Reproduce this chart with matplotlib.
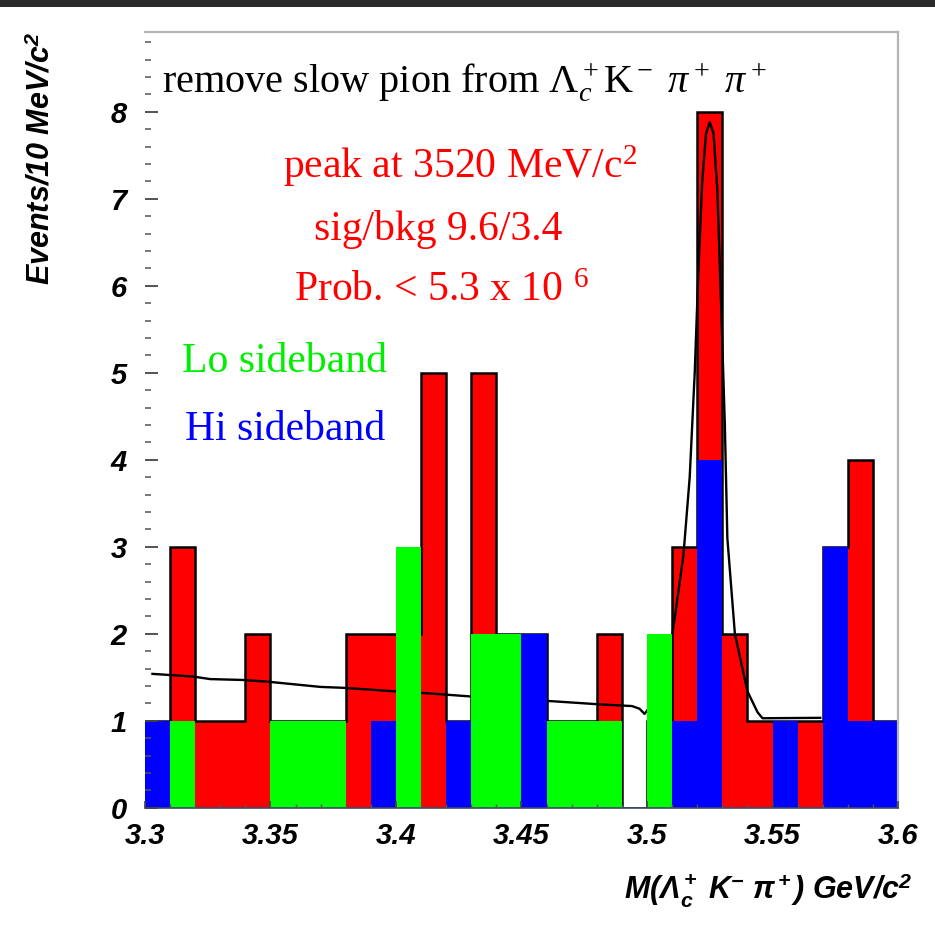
import numpy as np
import matplotlib
matplotlib.use("Agg")
import matplotlib.pyplot as plt
from matplotlib.patches import Rectangle

# serif for the annotations (Times-like), sans for the axes
plt.rcParams['font.family'] = 'Liberation Sans'
plt.rcParams['mathtext.fontset'] = 'custom'
plt.rcParams['mathtext.rm'] = 'Liberation Serif'
plt.rcParams['mathtext.it'] = 'Liberation Serif:italic'
plt.rcParams['mathtext.sf'] = 'Liberation Sans:bold:italic'
plt.rcParams['mathtext.bf'] = 'Liberation Sans:bold:italic'

# --- histogram contents, 10 MeV bins from 3.30 to 3.60 GeV ---
bin_lo = 3.30
bin_width = 0.01
n_bins = 30

signal = [1, 3, 1, 1, 2, 1, 1, 1, 2, 2,
          2, 5, 1, 5, 2, 2, 1, 1, 2, 0,
          1, 3, 8, 2, 1, 1, 1, 3, 4, 1]
lo_sideband = [0, 1, 0, 0, 0, 1, 1, 1, 0, 0,
               3, 0, 0, 2, 2, 0, 1, 1, 1, 0,
               2, 0, 0, 0, 0, 0, 0, 0, 0, 0]
hi_sideband = [1, 0, 0, 0, 0, 0, 0, 0, 0, 1,
               0, 0, 1, 0, 0, 2, 0, 0, 0, 0,
               0, 1, 4, 0, 0, 1, 0, 3, 1, 1]

# fitted curve (background + gaussian), sampled
fit_x = [3.303, 3.319, 3.326, 3.339, 3.349, 3.370, 3.379, 3.399, 3.411, 3.430,
         3.460, 3.481, 3.494, 3.497, 3.499, 3.505, 3.510, 3.5145, 3.517, 3.519,
         3.5205, 3.522, 3.5235, 3.525, 3.5265, 3.528, 3.5295, 3.531, 3.532, 3.535,
         3.540, 3.544, 3.546, 3.569]
fit_y = [1.54, 1.51, 1.48, 1.47, 1.45, 1.39, 1.38, 1.34, 1.32, 1.28,
         1.23, 1.19, 1.17, 1.14, 1.08, 1.30, 1.97, 2.90, 3.80, 5.00,
         6.20, 7.20, 7.75, 7.88, 7.75, 7.10, 5.80, 4.40, 3.10, 2.00,
         1.34, 1.10, 1.03, 1.035]

x_ticks = [3.30, 3.35, 3.40, 3.45, 3.50, 3.55, 3.60]
x_tick_labels = ['3.3', '3.35', '3.4', '3.45', '3.5', '3.55', '3.6']
y_ticks = [0, 1, 2, 3, 4, 5, 6, 7, 8]

edges = bin_lo + bin_width * np.arange(n_bins + 1)

fig = plt.figure(figsize=(9.35, 9.46), dpi=100)
ax = fig.add_axes([0.155, 0.146, 0.8055, 0.8205])

# signal region: red fill with black outline, fit on top, then sidebands
ax.stairs(signal, edges, fill=True, color='#ff0000', zorder=1.0)
ax.stairs(signal, edges, color='black', lw=1.8, baseline=0, zorder=1.1)
ax.plot(fit_x, fit_y, color='black', lw=1.7, zorder=1.2)
ax.stairs(lo_sideband, edges, fill=True, color='#00ff00', zorder=1.3)
ax.stairs(hi_sideband, edges, fill=True, color='#0000ff', zorder=1.4)

ax.set_xlim(3.30, 3.60)
ax.set_ylim(0, 8.92)
ax.set_axisbelow(False)

tick_font = dict(fontsize=21, fontweight='bold', fontstyle='italic')
ax.set_xticks(x_ticks, x_tick_labels, **tick_font)
ax.set_yticks(y_ticks, [str(v) for v in y_ticks], **tick_font)
ax.set_xticks(edges, minor=True)
ax.set_yticks(np.arange(0, 8.9, 0.2), minor=True)
ax.tick_params(axis='y', which='major', direction='in', length=9.5, width=1.3,
               color='#444444', pad=13)
ax.tick_params(axis='y', which='minor', direction='in', length=4.5, width=1.1,
               color='#555555')
ax.tick_params(axis='x', which='major', direction='in', length=5, width=1.2,
               color='#444444', pad=10)
ax.tick_params(axis='x', which='minor', direction='in', length=3, width=1.0,
               color='#555555')

ax.spines['left'].set_visible(False)
ax.spines['bottom'].set_color('#3a4a6a')
ax.spines['bottom'].set_linewidth(1.2)
for side in ('top', 'right'):
    ax.spines[side].set_color('#b4b4b4')
    ax.spines[side].set_linewidth(1.6)

# axis titles
ax.set_ylabel(r'Events/10 MeV/c$^{\mathbf{2}}$', fontsize=22, fontweight='bold',
              fontstyle='italic', loc='top')
ax.yaxis.set_label_coords(-0.117, 1.0)
ax.set_xlabel(r'M($\mathsf{\Lambda_c^+}$ K$^{\mathsf{-}}$ $\mathsf{\pi^+}$) GeV/c$^{\mathsf{2}}$',
              fontsize=22, fontweight='bold', fontstyle='italic', loc='right')
ax.xaxis.set_label_coords(1.02, -0.1186)
ax.xaxis.label.set_va('baseline')

# annotations
serif = 'Liberation Serif'
ax.text(3.3068, 8.22, r'remove slow pion from $\Lambda_c^+$K$^-$ $\pi^+$ $\pi^+$',
        fontsize=29, family=serif, color='black', va='baseline')
ax.text(3.355, 7.24, r'peak at 3520 MeV/c$^{\mathrm{2}}$',
        fontsize=30, family=serif, color='#ff0000', va='baseline')
ax.text(3.3673, 6.53, 'sig/bkg 9.6/3.4',
        fontsize=30, family=serif, color='#ff0000', va='baseline')
ax.text(3.3594, 5.82, r'Prob. < 5.3 x 10 $^{\mathrm{6}}$',
        fontsize=30, family=serif, color='#ff0000', va='baseline')
ax.text(3.3147, 5.01, 'Lo sideband',
        fontsize=30, family=serif, color='#00ee00', va='baseline')
ax.text(3.3159, 4.23, 'Hi sideband',
        fontsize=30, family=serif, color='#0000ff', va='baseline')

# dark strip along the top edge
fig.add_artist(Rectangle((0, 1 - 7 / 946), 1, 7 / 946, transform=fig.transFigure,
                         facecolor='#2a2a2a', edgecolor='none'))

fig.savefig('out.png', dpi=100)
